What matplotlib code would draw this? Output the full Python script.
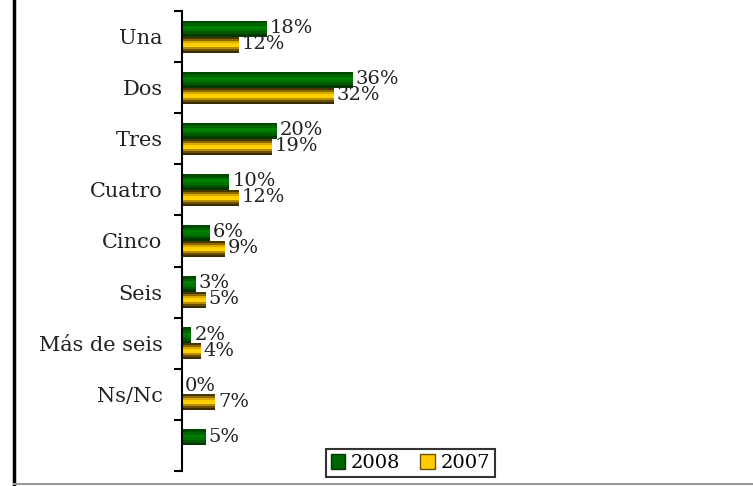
import numpy as np
import matplotlib.pyplot as plt
from matplotlib.patches import Patch
from matplotlib.lines import Line2D

# date extrase din grafic
categorii = ['Una', 'Dos', 'Tres', 'Cuatro', 'Cinco', 'Seis', 'Más de seis', 'Ns/Nc', '']
val_2008 = [18, 36, 20, 10, 6, 3, 2, 0, 5]
val_2007 = [12, 32, 19, 12, 9, 5, 4, 7, None]

# benzi de culoare pentru efectul de gradient (de sus in jos)
benzi_verde = ['#004a00', '#006400', '#008000', '#007400', '#005800', '#003a00']
benzi_auriu = ['#4a3700', '#8a6a00', '#d8aa00', '#ffcc00', '#ffd400', '#b88c00', '#6a5000', '#3a2c00']

plt.rcParams['font.family'] = ['DejaVu Serif']

fig = plt.figure(figsize=(7.53, 4.86), dpi=100)
ax = fig.add_axes([182 / 753, 15 / 486, (740 - 182) / 753, 460 / 486])

h = 0.313
y = np.arange(len(categorii))
px_pe_proc = 4.74


def bara_gradient(ax, yc, val, benzi):
    # desenez bara ca o stiva de benzi orizontale
    n = len(benzi)
    bh = h / n
    top = yc - h / 2
    for i, c in enumerate(benzi):
        ax.barh(top + bh * (i + 0.5), val, height=bh, color=c, linewidth=0, left=0)


for i in range(len(categorii)):
    v8 = val_2008[i]
    v7 = val_2007[i]
    if v8 is not None:
        bara_gradient(ax, y[i] - h / 2, v8, benzi_verde)
        ax.annotate(f'{v8}%', (v8, y[i] - h / 2), xytext=(2, 0.5), textcoords='offset points',
                    va='center', ha='left', fontsize=14, color='#222222')
    if v7 is not None:
        bara_gradient(ax, y[i] + h / 2, v7, benzi_auriu)
        ax.annotate(f'{v7}%', (v7, y[i] + h / 2), xytext=(2, 0.5), textcoords='offset points',
                    va='center', ha='left', fontsize=14, color='#222222')

ax.set_xlim(0, (740 - 182) / px_pe_proc)
ax.set_ylim(len(categorii) - 0.5, -0.5)

# axa verticala cu diviziuni intre categorii
for s in ['top', 'right', 'bottom']:
    ax.spines[s].set_visible(False)
ax.spines['left'].set_linewidth(1.5)
ax.set_xticks([])
ax.set_yticks(y)
ax.set_yticklabels(categorii, fontsize=15, color='#222222')
ax.tick_params(axis='y', which='major', length=0, pad=14)
ax.set_yticks(np.arange(len(categorii) + 1) - 0.5, minor=True)
ax.tick_params(axis='y', which='minor', length=6, width=1.5, direction='out')

# legenda
handles = [Patch(facecolor='#006400', edgecolor='#003a00'),
           Patch(facecolor='#ffcc00', edgecolor='#6a5000')]
leg = ax.legend(handles, ['2008', '2007'], ncol=2, loc='center',
                bbox_to_anchor=(0.409, 0.017), fontsize=14, frameon=True, fancybox=False,
                handlelength=0.75, handleheight=0.75, handletextpad=0.3, columnspacing=1.0,
                borderpad=0.25, borderaxespad=0)
leg.get_frame().set_edgecolor('black')
leg.get_frame().set_linewidth(1.5)

# chenarul exterior
fig.add_artist(Line2D([14 / 753, 14 / 753], [0, 1], color='black', linewidth=2.5))
fig.add_artist(Line2D([14 / 753, 1], [2 / 486, 2 / 486], color='#999999', linewidth=1.5))

fig.savefig('out.png', dpi=100)
